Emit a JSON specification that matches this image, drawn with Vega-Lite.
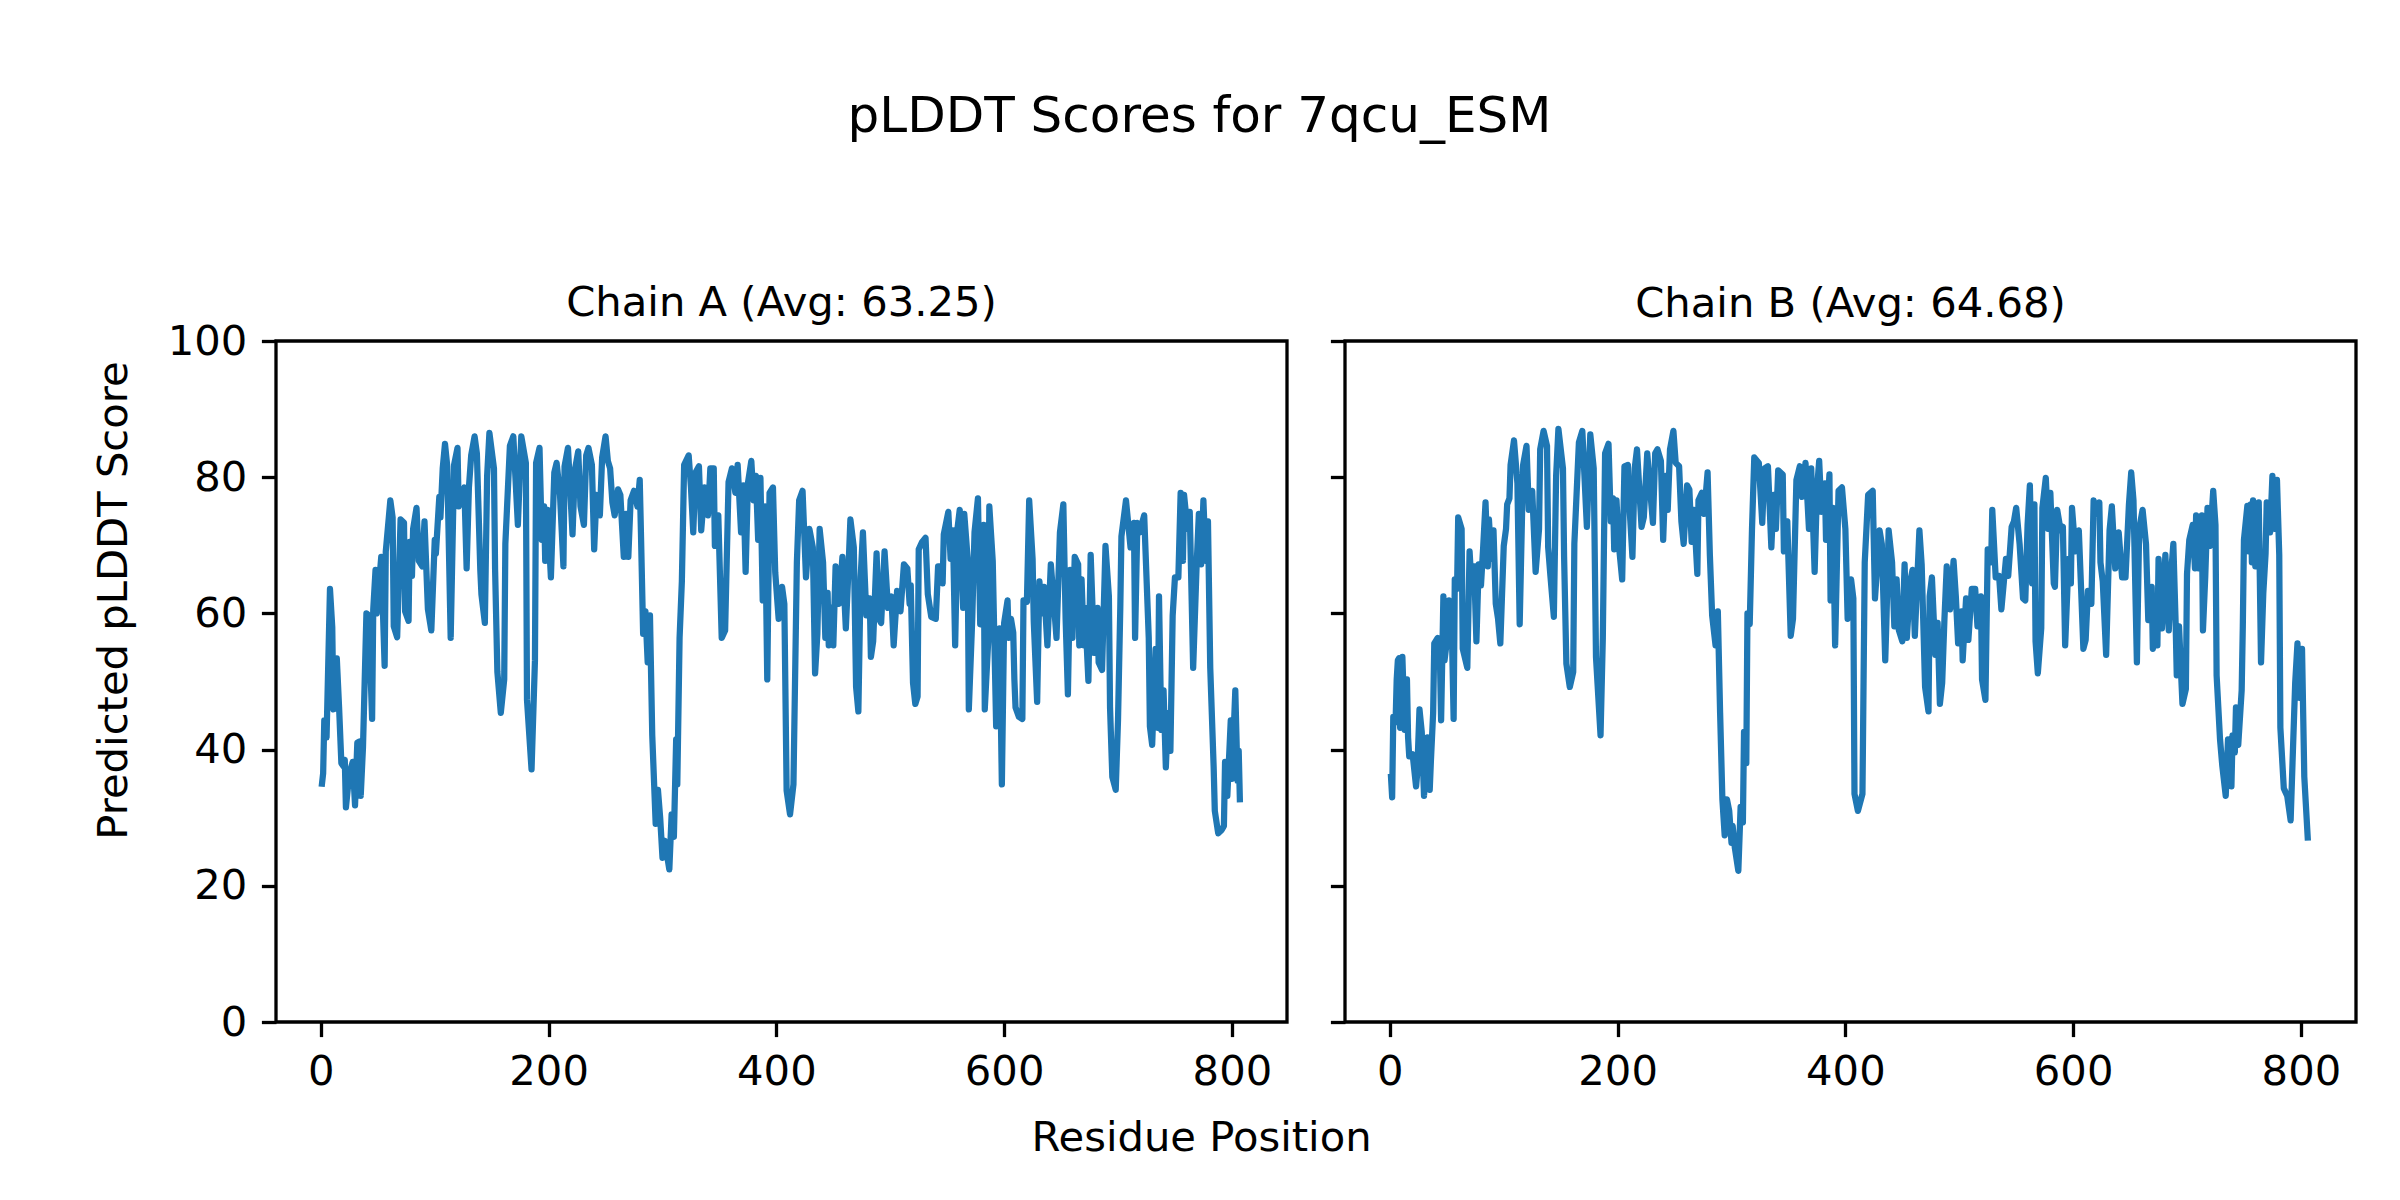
{
  "$schema": "https://vega.github.io/schema/vega-lite/v6.json",
  "background": "white",
  "padding": {"left": 91, "top": 91, "right": 0, "bottom": 0},
  "title": {"text": "pLDDT Scores for 7qcu_ESM", "fontSize": 50, "font": "DejaVu Sans", "fontWeight": "normal", "color": "black", "anchor": "middle", "dx": -25, "offset": 140},
  "config": {
    "view": {"stroke": "black", "strokeWidth": 3.3},
    "axis": {"domain": false, "grid": false, "tickColor": "black", "tickWidth": 3.3, "tickSize": 14.6, "labelFont": "DejaVu Sans", "labelFontSize": 41.7, "labelColor": "black", "labelPadding": 14.6, "labelFlush": false, "labelOverlap": false, "titleFont": "DejaVu Sans", "titleFontSize": 41.7, "titleFontWeight": "normal", "titleColor": "black"},
    "title": {"font": "DejaVu Sans", "fontWeight": "normal", "color": "black"}
  },
  "datasets": {
    "chainA": [
      {"residue":1,"score":35.0},{"residue":2,"score":36.5},{"residue":3,"score":44.3},{"residue":5,"score":41.8},{"residue":8,"score":63.6},{"residue":10,"score":58.0},{"residue":11,"score":45.9},{"residue":12,"score":46.0},{"residue":14,"score":53.4},{"residue":16,"score":46.2},{"residue":18,"score":38.0},{"residue":20,"score":37.5},{"residue":21,"score":38.5},{"residue":22,"score":31.5},{"residue":25,"score":36.5},{"residue":28,"score":38.2},{"residue":30,"score":31.8},{"residue":32,"score":41.0},{"residue":34,"score":41.2},{"residue":35,"score":33.2},{"residue":37,"score":40.4},{"residue":40,"score":60.0},{"residue":42,"score":59.7},{"residue":45,"score":44.5},{"residue":46,"score":60.6},{"residue":48,"score":66.4},{"residue":49,"score":60.0},{"residue":53,"score":68.3},{"residue":56,"score":52.3},{"residue":57,"score":69.1},{"residue":61,"score":76.6},{"residue":63,"score":74.1},{"residue":64,"score":58.1},{"residue":67,"score":56.5},{"residue":70,"score":73.8},{"residue":73,"score":73.3},{"residue":74,"score":60.3},{"residue":77,"score":58.9},{"residue":78,"score":70.5},{"residue":80,"score":65.5},{"residue":81,"score":72.4},{"residue":84,"score":75.5},{"residue":86,"score":67.7},{"residue":89,"score":66.9},{"residue":91,"score":73.5},{"residue":94,"score":60.6},{"residue":97,"score":57.5},{"residue":100,"score":70.8},{"residue":101,"score":68.8},{"residue":104,"score":77.1},{"residue":105,"score":74.1},{"residue":107,"score":81.3},{"residue":109,"score":84.9},{"residue":111,"score":81.6},{"residue":114,"score":56.4},{"residue":117,"score":81.8},{"residue":120,"score":84.3},{"residue":121,"score":75.7},{"residue":126,"score":78.5},{"residue":128,"score":66.6},{"residue":130,"score":78.5},{"residue":132,"score":83.2},{"residue":135,"score":86.0},{"residue":137,"score":83.5},{"residue":140,"score":66.4},{"residue":141,"score":62.8},{"residue":144,"score":58.6},{"residue":146,"score":80.2},{"residue":148,"score":86.5},{"residue":152,"score":81.3},{"residue":153,"score":66.4},{"residue":155,"score":51.4},{"residue":158,"score":45.4},{"residue":161,"score":50.3},{"residue":162,"score":70.2},{"residue":166,"score":84.6},{"residue":169,"score":86.0},{"residue":173,"score":73.0},{"residue":176,"score":86.0},{"residue":180,"score":82.1},{"residue":181,"score":47.3},{"residue":185,"score":37.1},{"residue":188,"score":53.1},{"residue":189,"score":82.1},{"residue":192,"score":84.3},{"residue":194,"score":70.8},{"residue":196,"score":75.7},{"residue":197,"score":67.7},{"residue":199,"score":75.2},{"residue":202,"score":65.3},{"residue":205,"score":80.7},{"residue":207,"score":82.1},{"residue":210,"score":77.4},{"residue":213,"score":66.9},{"residue":214,"score":81.6},{"residue":217,"score":84.3},{"residue":221,"score":71.6},{"residue":223,"score":81.0},{"residue":226,"score":83.8},{"residue":228,"score":75.7},{"residue":231,"score":73.0},{"residue":233,"score":83.2},{"residue":235,"score":84.3},{"residue":238,"score":81.8},{"residue":240,"score":69.4},{"residue":242,"score":77.4},{"residue":245,"score":74.4},{"residue":247,"score":82.9},{"residue":250,"score":86.0},{"residue":252,"score":82.4},{"residue":254,"score":81.3},{"residue":256,"score":76.3},{"residue":258,"score":74.4},{"residue":261,"score":78.2},{"residue":263,"score":77.4},{"residue":266,"score":68.3},{"residue":268,"score":74.6},{"residue":270,"score":68.3},{"residue":272,"score":76.6},{"residue":275,"score":78.0},{"residue":278,"score":75.7},{"residue":280,"score":79.6},{"residue":281,"score":72.4},{"residue":283,"score":57.0},{"residue":285,"score":60.3},{"residue":287,"score":52.8},{"residue":289,"score":59.7},{"residue":291,"score":42.1},{"residue":294,"score":29.1},{"residue":296,"score":34.1},{"residue":298,"score":29.9},{"residue":300,"score":24.1},{"residue":302,"score":26.6},{"residue":306,"score":22.4},{"residue":308,"score":30.5},{"residue":310,"score":27.2},{"residue":312,"score":41.5},{"residue":313,"score":34.9},{"residue":315,"score":56.4},{"residue":317,"score":64.7},{"residue":319,"score":81.8},{"residue":323,"score":83.2},{"residue":325,"score":78.5},{"residue":327,"score":71.9},{"residue":329,"score":80.7},{"residue":332,"score":81.6},{"residue":334,"score":72.2},{"residue":337,"score":78.5},{"residue":340,"score":74.4},{"residue":342,"score":81.3},{"residue":345,"score":81.3},{"residue":346,"score":69.9},{"residue":349,"score":74.4},{"residue":352,"score":56.4},{"residue":355,"score":57.5},{"residue":358,"score":79.3},{"residue":361,"score":81.3},{"residue":364,"score":77.7},{"residue":366,"score":81.8},{"residue":369,"score":71.9},{"residue":371,"score":78.8},{"residue":373,"score":66.1},{"residue":375,"score":79.1},{"residue":378,"score":82.4},{"residue":380,"score":76.6},{"residue":382,"score":80.2},{"residue":384,"score":70.8},{"residue":386,"score":79.9},{"residue":388,"score":61.9},{"residue":390,"score":75.7},{"residue":392,"score":50.3},{"residue":394,"score":77.7},{"residue":397,"score":78.5},{"residue":399,"score":66.0},{"residue":402,"score":59.2},{"residue":405,"score":63.9},{"residue":407,"score":61.4},{"residue":409,"score":34.0},{"residue":412,"score":30.5},{"residue":415,"score":34.9},{"residue":418,"score":67.5},{"residue":420,"score":76.6},{"residue":423,"score":78.0},{"residue":426,"score":65.3},{"residue":429,"score":72.4},{"residue":432,"score":69.7},{"residue":434,"score":51.2},{"residue":436,"score":57.0},{"residue":438,"score":72.4},{"residue":441,"score":67.5},{"residue":443,"score":56.4},{"residue":445,"score":63.0},{"residue":446,"score":55.3},{"residue":448,"score":60.8},{"residue":450,"score":55.3},{"residue":452,"score":66.9},{"residue":455,"score":61.4},{"residue":458,"score":68.3},{"residue":461,"score":57.8},{"residue":463,"score":65.3},{"residue":465,"score":73.8},{"residue":468,"score":69.7},{"residue":470,"score":49.2},{"residue":472,"score":45.6},{"residue":474,"score":65.3},{"residue":476,"score":71.9},{"residue":479,"score":59.7},{"residue":482,"score":62.2},{"residue":483,"score":53.6},{"residue":485,"score":55.9},{"residue":488,"score":68.8},{"residue":490,"score":59.2},{"residue":492,"score":58.6},{"residue":495,"score":69.1},{"residue":498,"score":60.8},{"residue":501,"score":62.5},{"residue":503,"score":55.3},{"residue":506,"score":63.3},{"residue":509,"score":60.3},{"residue":512,"score":67.2},{"residue":515,"score":66.6},{"residue":517,"score":61.4},{"residue":518,"score":64.1},{"residue":520,"score":49.8},{"residue":522,"score":46.7},{"residue":524,"score":47.8},{"residue":525,"score":69.4},{"residue":528,"score":70.5},{"residue":531,"score":71.1},{"residue":533,"score":62.8},{"residue":536,"score":59.5},{"residue":540,"score":59.2},{"residue":542,"score":66.9},{"residue":544,"score":66.9},{"residue":546,"score":64.4},{"residue":547,"score":71.6},{"residue":551,"score":74.9},{"residue":553,"score":68.0},{"residue":555,"score":72.2},{"residue":557,"score":55.3},{"residue":559,"score":72.4},{"residue":561,"score":75.2},{"residue":564,"score":60.8},{"residue":565,"score":74.6},{"residue":568,"score":68.0},{"residue":569,"score":45.9},{"residue":572,"score":59.2},{"residue":574,"score":71.9},{"residue":577,"score":76.9},{"residue":579,"score":58.4},{"residue":582,"score":73.0},{"residue":583,"score":45.9},{"residue":586,"score":55.9},{"residue":587,"score":75.7},{"residue":590,"score":67.7},{"residue":593,"score":43.4},{"residue":596,"score":57.8},{"residue":598,"score":34.9},{"residue":600,"score":58.6},{"residue":603,"score":61.9},{"residue":604,"score":56.4},{"residue":606,"score":59.2},{"residue":608,"score":57.2},{"residue":609,"score":50.3},{"residue":610,"score":46.2},{"residue":613,"score":44.8},{"residue":616,"score":44.5},{"residue":617,"score":61.9},{"residue":620,"score":61.7},{"residue":622,"score":76.6},{"residue":625,"score":68.0},{"residue":626,"score":58.9},{"residue":629,"score":47.0},{"residue":631,"score":64.7},{"residue":633,"score":60.0},{"residue":635,"score":63.9},{"residue":638,"score":55.3},{"residue":641,"score":67.2},{"residue":644,"score":60.8},{"residue":646,"score":56.4},{"residue":649,"score":71.9},{"residue":652,"score":76.0},{"residue":654,"score":59.2},{"residue":656,"score":48.1},{"residue":658,"score":66.4},{"residue":660,"score":56.4},{"residue":662,"score":68.3},{"residue":665,"score":67.2},{"residue":666,"score":55.3},{"residue":668,"score":65.0},{"residue":670,"score":55.3},{"residue":671,"score":60.8},{"residue":674,"score":50.1},{"residue":676,"score":68.6},{"residue":679,"score":54.2},{"residue":682,"score":60.8},{"residue":683,"score":52.8},{"residue":686,"score":51.7},{"residue":689,"score":69.9},{"residue":692,"score":62.5},{"residue":693,"score":46.2},{"residue":695,"score":36.0},{"residue":698,"score":34.1},{"residue":700,"score":44.3},{"residue":702,"score":60.8},{"residue":703,"score":71.3},{"residue":707,"score":76.6},{"residue":711,"score":69.7},{"residue":714,"score":73.3},{"residue":715,"score":56.4},{"residue":717,"score":73.3},{"residue":719,"score":71.9},{"residue":723,"score":74.4},{"residue":727,"score":56.4},{"residue":728,"score":43.4},{"residue":730,"score":40.7},{"residue":733,"score":54.8},{"residue":735,"score":43.2},{"residue":736,"score":62.5},{"residue":738,"score":42.9},{"residue":740,"score":48.7},{"residue":742,"score":37.4},{"residue":744,"score":45.4},{"residue":746,"score":39.8},{"residue":748,"score":59.7},{"residue":750,"score":65.3},{"residue":753,"score":65.3},{"residue":755,"score":77.7},{"residue":757,"score":67.7},{"residue":758,"score":77.4},{"residue":761,"score":72.4},{"residue":763,"score":74.9},{"residue":766,"score":52.0},{"residue":768,"score":61.9},{"residue":769,"score":66.9},{"residue":771,"score":74.6},{"residue":773,"score":67.2},{"residue":775,"score":76.6},{"residue":777,"score":67.7},{"residue":779,"score":73.5},{"residue":781,"score":52.0},{"residue":784,"score":37.4},{"residue":785,"score":31.0},{"residue":788,"score":27.7},{"residue":791,"score":28.2},{"residue":793,"score":28.8},{"residue":794,"score":38.2},{"residue":796,"score":33.2},{"residue":799,"score":44.3},{"residue":800,"score":35.7},{"residue":803,"score":48.7},{"residue":805,"score":35.4},{"residue":806,"score":39.8},{"residue":807,"score":32.7}
    ],
    "chainB": [
      {"residue":1,"score":36.0},{"residue":2,"score":33.0},{"residue":3,"score":44.8},{"residue":5,"score":44.0},{"residue":6,"score":50.3},{"residue":7,"score":53.1},{"residue":8,"score":53.4},{"residue":9,"score":43.2},{"residue":11,"score":53.6},{"residue":13,"score":42.9},{"residue":15,"score":50.3},{"residue":16,"score":41.8},{"residue":17,"score":39.0},{"residue":20,"score":39.3},{"residue":23,"score":34.6},{"residue":24,"score":36.5},{"residue":26,"score":45.9},{"residue":28,"score":42.6},{"residue":30,"score":33.2},{"residue":33,"score":41.8},{"residue":35,"score":34.1},{"residue":36,"score":38.2},{"residue":38,"score":45.4},{"residue":39,"score":55.6},{"residue":42,"score":56.4},{"residue":44,"score":53.1},{"residue":45,"score":44.3},{"residue":47,"score":62.5},{"residue":48,"score":53.1},{"residue":50,"score":55.9},{"residue":52,"score":61.9},{"residue":54,"score":61.1},{"residue":56,"score":44.5},{"residue":57,"score":65.0},{"residue":59,"score":63.6},{"residue":60,"score":74.1},{"residue":63,"score":72.4},{"residue":64,"score":54.8},{"residue":68,"score":52.0},{"residue":70,"score":69.1},{"residue":72,"score":63.3},{"residue":74,"score":66.9},{"residue":76,"score":55.9},{"residue":78,"score":67.2},{"residue":80,"score":64.1},{"residue":82,"score":69.9},{"residue":84,"score":76.3},{"residue":86,"score":66.9},{"residue":87,"score":73.8},{"residue":89,"score":68.0},{"residue":91,"score":72.2},{"residue":93,"score":61.4},{"residue":95,"score":59.2},{"residue":97,"score":55.6},{"residue":100,"score":69.9},{"residue":102,"score":72.4},{"residue":103,"score":76.0},{"residue":105,"score":76.9},{"residue":106,"score":81.8},{"residue":109,"score":85.4},{"residue":112,"score":79.1},{"residue":114,"score":58.4},{"residue":117,"score":81.8},{"residue":120,"score":84.6},{"residue":122,"score":75.2},{"residue":125,"score":78.0},{"residue":128,"score":66.1},{"residue":131,"score":72.4},{"residue":132,"score":84.1},{"residue":135,"score":86.8},{"residue":138,"score":84.6},{"residue":139,"score":69.7},{"residue":141,"score":65.5},{"residue":144,"score":59.5},{"residue":146,"score":80.2},{"residue":148,"score":87.1},{"residue":152,"score":81.3},{"residue":153,"score":68.3},{"residue":155,"score":52.6},{"residue":158,"score":49.2},{"residue":161,"score":51.4},{"residue":162,"score":70.2},{"residue":166,"score":85.1},{"residue":169,"score":86.8},{"residue":173,"score":72.7},{"residue":176,"score":86.3},{"residue":179,"score":81.3},{"residue":181,"score":53.6},{"residue":185,"score":42.1},{"residue":187,"score":56.4},{"residue":189,"score":83.5},{"residue":192,"score":84.9},{"residue":194,"score":73.5},{"residue":196,"score":76.9},{"residue":197,"score":69.4},{"residue":199,"score":76.6},{"residue":201,"score":70.2},{"residue":204,"score":65.0},{"residue":206,"score":81.6},{"residue":209,"score":81.8},{"residue":210,"score":76.9},{"residue":213,"score":68.3},{"residue":215,"score":81.3},{"residue":217,"score":84.1},{"residue":221,"score":72.7},{"residue":223,"score":74.1},{"residue":226,"score":83.5},{"residue":228,"score":79.3},{"residue":231,"score":73.3},{"residue":233,"score":83.5},{"residue":235,"score":84.1},{"residue":238,"score":82.4},{"residue":240,"score":70.8},{"residue":242,"score":80.2},{"residue":244,"score":75.2},{"residue":246,"score":84.1},{"residue":249,"score":86.8},{"residue":251,"score":82.1},{"residue":254,"score":81.6},{"residue":256,"score":73.5},{"residue":258,"score":70.2},{"residue":261,"score":78.8},{"residue":263,"score":78.2},{"residue":265,"score":70.5},{"residue":267,"score":75.2},{"residue":270,"score":65.8},{"residue":271,"score":76.6},{"residue":274,"score":77.7},{"residue":276,"score":74.6},{"residue":279,"score":80.7},{"residue":281,"score":68.6},{"residue":283,"score":59.7},{"residue":286,"score":55.3},{"residue":288,"score":60.3},{"residue":290,"score":45.4},{"residue":292,"score":32.7},{"residue":294,"score":27.4},{"residue":296,"score":32.7},{"residue":298,"score":31.0},{"residue":300,"score":26.3},{"residue":301,"score":28.8},{"residue":303,"score":25.5},{"residue":306,"score":22.2},{"residue":308,"score":31.6},{"residue":310,"score":29.3},{"residue":311,"score":42.6},{"residue":313,"score":38.0},{"residue":314,"score":60.0},{"residue":316,"score":58.4},{"residue":318,"score":72.4},{"residue":320,"score":82.9},{"residue":324,"score":82.1},{"residue":327,"score":73.3},{"residue":329,"score":81.3},{"residue":332,"score":81.6},{"residue":335,"score":69.7},{"residue":337,"score":77.4},{"residue":339,"score":72.4},{"residue":341,"score":81.0},{"residue":345,"score":80.4},{"residue":346,"score":69.1},{"residue":349,"score":73.5},{"residue":352,"score":56.7},{"residue":354,"score":59.2},{"residue":357,"score":79.6},{"residue":360,"score":81.6},{"residue":362,"score":77.1},{"residue":365,"score":82.1},{"residue":368,"score":72.4},{"residue":370,"score":81.3},{"residue":373,"score":66.1},{"residue":375,"score":78.0},{"residue":377,"score":82.4},{"residue":379,"score":74.9},{"residue":382,"score":79.1},{"residue":383,"score":70.8},{"residue":386,"score":80.4},{"residue":387,"score":61.9},{"residue":389,"score":75.5},{"residue":391,"score":55.3},{"residue":394,"score":78.0},{"residue":397,"score":78.5},{"residue":400,"score":72.4},{"residue":402,"score":59.2},{"residue":405,"score":65.0},{"residue":407,"score":62.2},{"residue":408,"score":33.5},{"residue":411,"score":31.0},{"residue":415,"score":33.5},{"residue":417,"score":67.5},{"residue":420,"score":77.4},{"residue":424,"score":78.0},{"residue":426,"score":62.2},{"residue":430,"score":72.2},{"residue":432,"score":70.2},{"residue":435,"score":53.1},{"residue":436,"score":58.6},{"residue":438,"score":72.2},{"residue":441,"score":67.5},{"residue":443,"score":58.1},{"residue":445,"score":65.0},{"residue":447,"score":57.5},{"residue":450,"score":55.9},{"residue":452,"score":67.2},{"residue":454,"score":56.4},{"residue":457,"score":64.7},{"residue":459,"score":66.4},{"residue":461,"score":56.7},{"residue":465,"score":72.2},{"residue":467,"score":67.2},{"residue":470,"score":49.2},{"residue":473,"score":45.6},{"residue":474,"score":62.5},{"residue":476,"score":65.3},{"residue":479,"score":53.9},{"residue":481,"score":58.6},{"residue":483,"score":46.7},{"residue":485,"score":49.8},{"residue":487,"score":59.2},{"residue":489,"score":66.9},{"residue":492,"score":60.6},{"residue":495,"score":67.7},{"residue":497,"score":62.5},{"residue":499,"score":55.6},{"residue":502,"score":60.3},{"residue":503,"score":53.1},{"residue":506,"score":62.2},{"residue":508,"score":56.1},{"residue":511,"score":63.6},{"residue":514,"score":63.6},{"residue":516,"score":58.1},{"residue":519,"score":62.5},{"residue":520,"score":50.3},{"residue":523,"score":47.3},{"residue":525,"score":69.4},{"residue":528,"score":67.5},{"residue":529,"score":75.2},{"residue":532,"score":65.3},{"residue":535,"score":65.5},{"residue":537,"score":60.6},{"residue":541,"score":68.0},{"residue":543,"score":65.5},{"residue":546,"score":72.7},{"residue":548,"score":73.5},{"residue":550,"score":75.5},{"residue":553,"score":70.2},{"residue":556,"score":62.2},{"residue":558,"score":61.9},{"residue":560,"score":73.0},{"residue":562,"score":78.8},{"residue":564,"score":64.4},{"residue":566,"score":76.0},{"residue":567,"score":55.9},{"residue":569,"score":51.2},{"residue":572,"score":57.8},{"residue":573,"score":75.5},{"residue":576,"score":79.9},{"residue":578,"score":72.4},{"residue":580,"score":77.7},{"residue":583,"score":64.4},{"residue":584,"score":63.9},{"residue":586,"score":75.2},{"residue":589,"score":72.2},{"residue":591,"score":72.7},{"residue":593,"score":55.3},{"residue":596,"score":68.0},{"residue":598,"score":64.4},{"residue":599,"score":75.5},{"residue":602,"score":69.1},{"residue":605,"score":72.2},{"residue":607,"score":63.6},{"residue":609,"score":54.8},{"residue":611,"score":56.1},{"residue":613,"score":63.3},{"residue":616,"score":61.4},{"residue":618,"score":76.6},{"residue":620,"score":74.6},{"residue":623,"score":76.3},{"residue":624,"score":67.5},{"residue":626,"score":64.7},{"residue":629,"score":53.9},{"residue":632,"score":72.2},{"residue":634,"score":75.7},{"residue":637,"score":66.6},{"residue":640,"score":71.9},{"residue":643,"score":65.3},{"residue":646,"score":65.3},{"residue":649,"score":76.0},{"residue":651,"score":80.7},{"residue":653,"score":76.6},{"residue":656,"score":52.8},{"residue":658,"score":72.4},{"residue":661,"score":75.2},{"residue":664,"score":70.2},{"residue":666,"score":59.0},{"residue":669,"score":63.9},{"residue":670,"score":54.8},{"residue":673,"score":60.6},{"residue":674,"score":55.3},{"residue":675,"score":68.0},{"residue":678,"score":57.8},{"residue":681,"score":68.6},{"residue":684,"score":57.5},{"residue":686,"score":65.8},{"residue":688,"score":70.2},{"residue":690,"score":58.6},{"residue":691,"score":50.9},{"residue":693,"score":58.1},{"residue":696,"score":46.7},{"residue":699,"score":48.9},{"residue":700,"score":65.8},{"residue":702,"score":70.8},{"residue":705,"score":73.0},{"residue":707,"score":66.6},{"residue":708,"score":74.4},{"residue":710,"score":66.6},{"residue":713,"score":74.4},{"residue":714,"score":57.5},{"residue":716,"score":65.3},{"residue":718,"score":75.5},{"residue":720,"score":69.9},{"residue":723,"score":78.0},{"residue":725,"score":73.0},{"residue":726,"score":50.9},{"residue":729,"score":41.5},{"residue":731,"score":37.6},{"residue":734,"score":33.2},{"residue":736,"score":41.5},{"residue":739,"score":34.6},{"residue":740,"score":42.1},{"residue":742,"score":39.6},{"residue":743,"score":46.2},{"residue":745,"score":40.7},{"residue":748,"score":48.7},{"residue":749,"score":58.1},{"residue":750,"score":70.8},{"residue":753,"score":75.8},{"residue":754,"score":69.1},{"residue":756,"score":76.0},{"residue":757,"score":67.5},{"residue":758,"score":76.6},{"residue":760,"score":66.9},{"residue":763,"score":76.3},{"residue":765,"score":52.8},{"residue":767,"score":63.0},{"residue":769,"score":68.8},{"residue":770,"score":76.3},{"residue":773,"score":71.9},{"residue":775,"score":80.2},{"residue":777,"score":72.4},{"residue":779,"score":79.6},{"residue":781,"score":68.6},{"residue":782,"score":43.2},{"residue":785,"score":34.3},{"residue":788,"score":33.2},{"residue":791,"score":29.6},{"residue":793,"score":39.8},{"residue":795,"score":49.8},{"residue":797,"score":55.6},{"residue":799,"score":47.6},{"residue":801,"score":54.8},{"residue":803,"score":36.0},{"residue":806,"score":27.1}
    ]
  },
  "bounds": "flush",
  "spacing": 58,
  "hconcat": [
    {
      "data": {"name": "chainA"},
      "width": 1011,
      "height": 681,
      "title": {"text": "Chain A (Avg: 63.25)", "fontSize": 41.7, "offset": -4, "anchor": "middle"},
      "mark": {"type": "line", "color": "#1f77b4", "strokeWidth": 6.25, "strokeJoin": "round", "strokeCap": "square"},
      "encoding": {
        "x": {"field": "residue", "type": "quantitative", "scale": {"domain": [-39.4, 848.4], "nice": false, "zero": false}, "axis": {"values": [0, 200, 400, 600, 800], "title": "Residue Position", "titleX": 925, "titleY": 115, "titleAlign": "center", "titleBaseline": "middle", "titleAngle": 0}},
        "y": {"field": "score", "type": "quantitative", "scale": {"domain": [0, 100], "nice": false, "zero": false}, "axis": {"values": [0, 20, 40, 60, 80, 100], "title": "Predicted pLDDT Score", "titleX": -163, "titleY": 259, "titleAlign": "center", "titleBaseline": "middle", "titleAngle": -90}}
      }
    },
    {
      "data": {"name": "chainB"},
      "width": 1011,
      "height": 681,
      "title": {"text": "Chain B (Avg: 64.68)", "fontSize": 41.7, "offset": 14, "anchor": "middle"},
      "mark": {"type": "line", "color": "#1f77b4", "strokeWidth": 6.25, "strokeJoin": "round", "strokeCap": "square"},
      "encoding": {
        "x": {"field": "residue", "type": "quantitative", "scale": {"domain": [-39.4, 848.4], "nice": false, "zero": false}, "axis": {"values": [0, 200, 400, 600, 800], "title": null}},
        "y": {"field": "score", "type": "quantitative", "scale": {"domain": [0, 100], "nice": false, "zero": false}, "axis": {"values": [0, 20, 40, 60, 80, 100], "title": null, "labels": false}}
      }
    }
  ]
}
